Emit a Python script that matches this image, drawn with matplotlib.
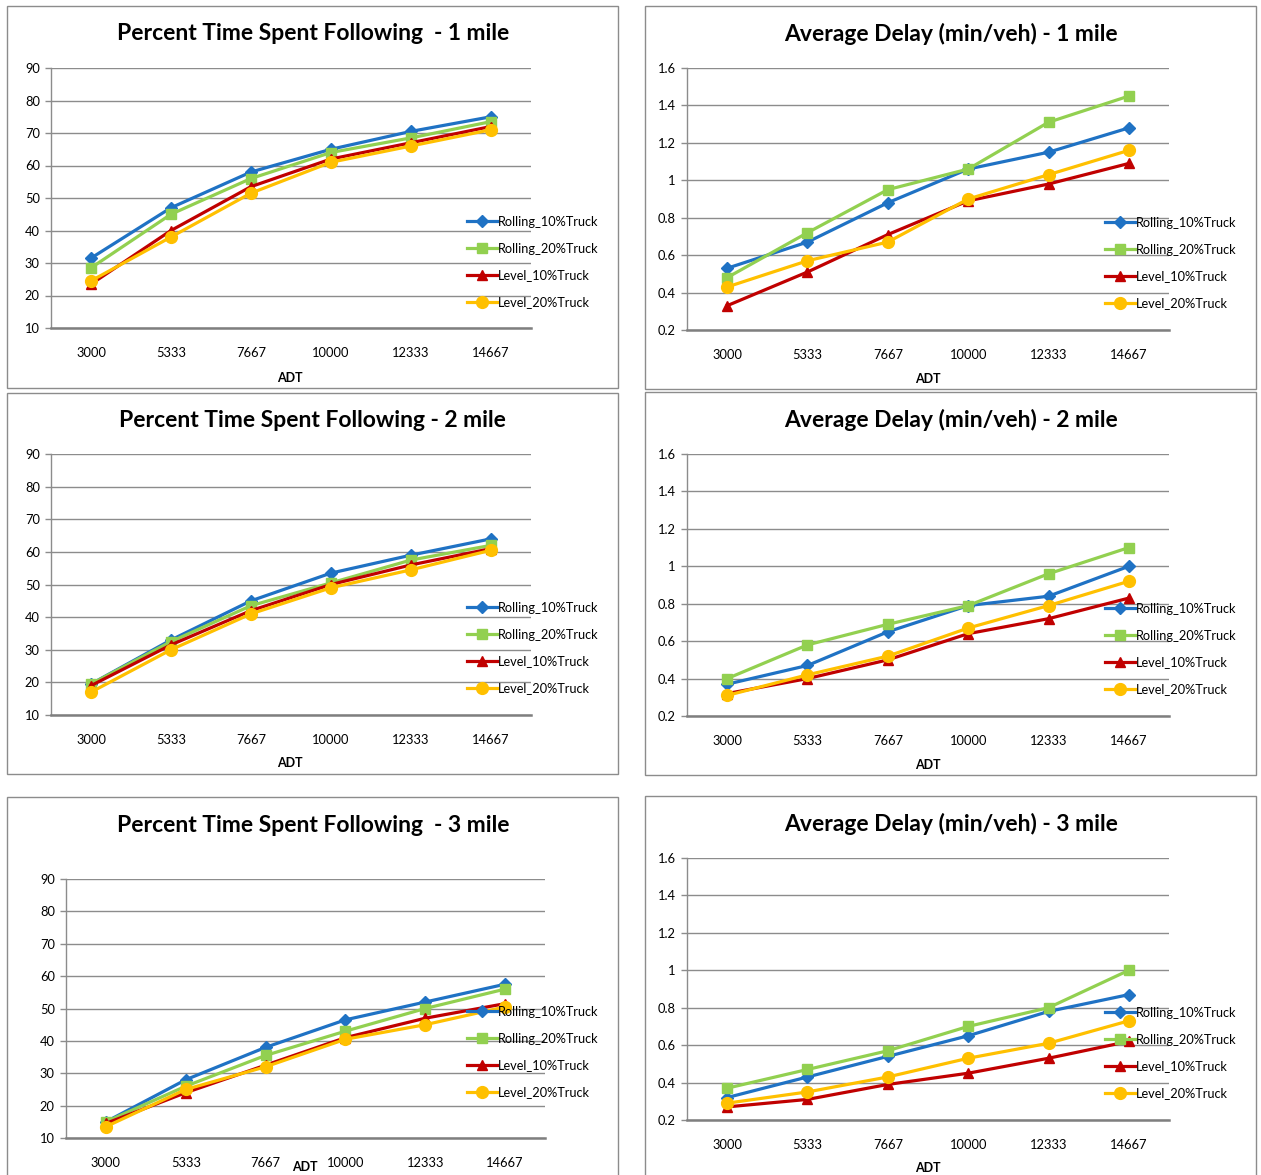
import matplotlib
matplotlib.use("Agg")
import matplotlib.pyplot as plt
from matplotlib.patches import Rectangle
from matplotlib.ticker import FuncFormatter, FixedLocator

# ---- data ---------------------------------------------------------------
adt_labels = ["3000", "5333", "7667", "10000", "12333", "14667"]
series_names = ["Rolling_10%Truck", "Rolling_20%Truck", "Level_10%Truck", "Level_20%Truck"]

ptsf_1mi_rolling10 = [31.5, 47.0, 58.0, 65.0, 70.5, 75.0]
ptsf_1mi_rolling20 = [28.5, 45.0, 56.0, 64.0, 68.5, 73.5]
ptsf_1mi_level10 = [23.5, 40.0, 53.5, 62.0, 67.0, 72.0]
ptsf_1mi_level20 = [24.5, 38.0, 51.5, 61.0, 66.0, 71.0]

delay_1mi_rolling10 = [0.53, 0.67, 0.88, 1.06, 1.15, 1.28]
delay_1mi_rolling20 = [0.48, 0.72, 0.95, 1.06, 1.31, 1.45]
delay_1mi_level10 = [0.33, 0.51, 0.71, 0.89, 0.98, 1.09]
delay_1mi_level20 = [0.43, 0.57, 0.67, 0.90, 1.03, 1.16]

ptsf_2mi_rolling10 = [19.5, 33.0, 45.0, 53.5, 59.0, 64.0]
ptsf_2mi_rolling20 = [19.5, 32.5, 43.5, 50.5, 57.5, 62.0]
ptsf_2mi_level10 = [19.0, 31.5, 42.0, 50.0, 56.0, 61.0]
ptsf_2mi_level20 = [17.0, 30.0, 41.0, 49.0, 54.5, 60.5]

delay_2mi_rolling10 = [0.37, 0.47, 0.65, 0.79, 0.84, 1.00]
delay_2mi_rolling20 = [0.40, 0.58, 0.69, 0.79, 0.96, 1.10]
delay_2mi_level10 = [0.32, 0.40, 0.50, 0.64, 0.72, 0.83]
delay_2mi_level20 = [0.31, 0.42, 0.52, 0.67, 0.79, 0.92]

ptsf_3mi_rolling10 = [15.0, 28.0, 38.0, 46.5, 52.0, 57.5]
ptsf_3mi_rolling20 = [15.0, 26.0, 35.5, 43.0, 50.0, 56.0]
ptsf_3mi_level10 = [14.5, 24.0, 32.5, 41.0, 47.0, 51.5]
ptsf_3mi_level20 = [13.5, 25.0, 32.0, 40.5, 45.0, 50.5]

delay_3mi_rolling10 = [0.32, 0.43, 0.54, 0.65, 0.78, 0.87]
delay_3mi_rolling20 = [0.37, 0.47, 0.57, 0.70, 0.80, 1.00]
delay_3mi_level10 = [0.27, 0.31, 0.39, 0.45, 0.53, 0.62]
delay_3mi_level20 = [0.29, 0.35, 0.43, 0.53, 0.61, 0.73]

ptsf_ticks = [10, 20, 30, 40, 50, 60, 70, 80, 90]
delay_ticks = [0.2, 0.4, 0.6, 0.8, 1.0, 1.2, 1.4, 1.6]

# ---- styling ------------------------------------------------------------
W, H = 1261, 1175
DPI = 100
colors = ["#1f72c4", "#92d050", "#c00000", "#ffc000"]
markers = ["D", "s", "^", "o"]
msizes = [6.0, 7.5, 7.5, 8.5]
GRID = "#8c8c8c"
FONT = "Lato"

plt.rcParams["font.family"] = [FONT, "DejaVu Sans"]

fig = plt.figure(figsize=(W / DPI, H / DPI), dpi=DPI)
fig.patch.set_facecolor("white")


def fx(x):
    return x / W


def fy(y):
    return 1 - y / H


panels = [
    dict(box=(7, 6, 618, 388), ax=(51, 68, 531, 328),
         title="Percent Time Spent Following  - 1 mile", tpos=(313, 33), adt=(290, 378),
         leg=(467, 222), ticks=ptsf_ticks,
         data=[ptsf_1mi_rolling10, ptsf_1mi_rolling20, ptsf_1mi_level10, ptsf_1mi_level20]),
    dict(box=(645, 6, 1256, 389), ax=(687, 68, 1169, 330),
         title="Average Delay (min/veh) - 1 mile", tpos=(951, 33), adt=(928, 379),
         leg=(1105, 223), ticks=delay_ticks,
         data=[delay_1mi_rolling10, delay_1mi_rolling20, delay_1mi_level10, delay_1mi_level20]),
    dict(box=(7, 393, 618, 774), ax=(51, 454, 531, 715),
         title="Percent Time Spent Following - 2 mile", tpos=(312, 419), adt=(290, 763),
         leg=(467, 608), ticks=ptsf_ticks,
         data=[ptsf_2mi_rolling10, ptsf_2mi_rolling20, ptsf_2mi_level10, ptsf_2mi_level20]),
    dict(box=(645, 392, 1256, 775), ax=(687, 454, 1169, 716),
         title="Average Delay (min/veh) - 2 mile", tpos=(951, 419), adt=(928, 765),
         leg=(1105, 609), ticks=delay_ticks,
         data=[delay_2mi_rolling10, delay_2mi_rolling20, delay_2mi_level10, delay_2mi_level20]),
    dict(box=(7, 797, 618, 1190), ax=(66, 879, 545, 1138),
         title="Percent Time Spent Following  - 3 mile", tpos=(313, 824), adt=(305, 1167),
         leg=(467, 1012), ticks=ptsf_ticks,
         data=[ptsf_3mi_rolling10, ptsf_3mi_rolling20, ptsf_3mi_level10, ptsf_3mi_level20]),
    dict(box=(645, 796, 1256, 1190), ax=(687, 858, 1169, 1120),
         title="Average Delay (min/veh) - 3 mile", tpos=(951, 823), adt=(928, 1168),
         leg=(1105, 1013), ticks=delay_ticks,
         data=[delay_3mi_rolling10, delay_3mi_rolling20, delay_3mi_level10, delay_3mi_level20]),
]

ypct = FuncFormatter(lambda v, p: "%g" % round(v, 2))

for p in panels:
    # chart frame
    x0, y0, x1, y1 = p["box"]
    fig.add_artist(Rectangle((fx(x0), fy(y1)), fx(x1 - x0), (y1 - y0) / H,
                             transform=fig.transFigure, fill=False,
                             edgecolor=GRID, linewidth=1.0))
    fig.text(fx(p["tpos"][0]), fy(p["tpos"][1] + 1), p["title"], ha="center", va="center",
             fontsize=16.5, fontweight="bold", color="black")
    fig.text(fx(p["adt"][0]), fy(p["adt"][1]), "ADT", ha="center", va="center",
             fontsize=9, fontweight="bold", color="black")

    l, t, r, b = p["ax"]
    ax = fig.add_axes([fx(l), fy(b), fx(r - l), (b - t) / H])
    ax.set_facecolor("none")
    xs = list(range(len(adt_labels)))
    handles = []
    for vals, c, m, ms, name in zip(p["data"], colors, markers, msizes, series_names):
        h, = ax.plot(xs, vals, color=c, marker=m, markersize=ms, linewidth=2.3,
                     markeredgecolor=c, label=name, clip_on=False, zorder=3)
        handles.append(h)

    ticks = p["ticks"]
    ax.set_ylim(ticks[0], ticks[-1])
    ax.set_xlim(-0.5, len(adt_labels) - 0.5)
    ax.yaxis.set_major_locator(FixedLocator(ticks))
    ax.yaxis.set_major_formatter(ypct)
    ax.set_xticks(xs)
    ax.set_xticklabels(adt_labels)
    ax.grid(axis="y", color=GRID, linewidth=1.0, zorder=0)
    ax.set_axisbelow(True)
    for s in ("top", "right"):
        ax.spines[s].set_visible(False)
    ax.spines["left"].set_color(GRID)
    ax.spines["left"].set_linewidth(1.0)
    ax.spines["bottom"].set_color("#7f7f7f")
    ax.spines["bottom"].set_linewidth(1.8)
    ax.tick_params(axis="y", length=4, width=1, color=GRID, labelsize=9.3, pad=4,
                   labelcolor="black")
    ax.tick_params(axis="x", length=0, labelsize=9.3, pad=14, labelcolor="black")

    lx, ly = p["leg"]
    fig.legend(handles=handles, loc="center left",
               bbox_to_anchor=(fx(lx), fy(ly + 40)), bbox_transform=fig.transFigure,
               frameon=False, fontsize=9.2, handlelength=2.35, handletextpad=0.1,
               borderpad=0, borderaxespad=0, labelspacing=1.15, numpoints=1)

fig.savefig("out.png", dpi=DPI, facecolor="white")
